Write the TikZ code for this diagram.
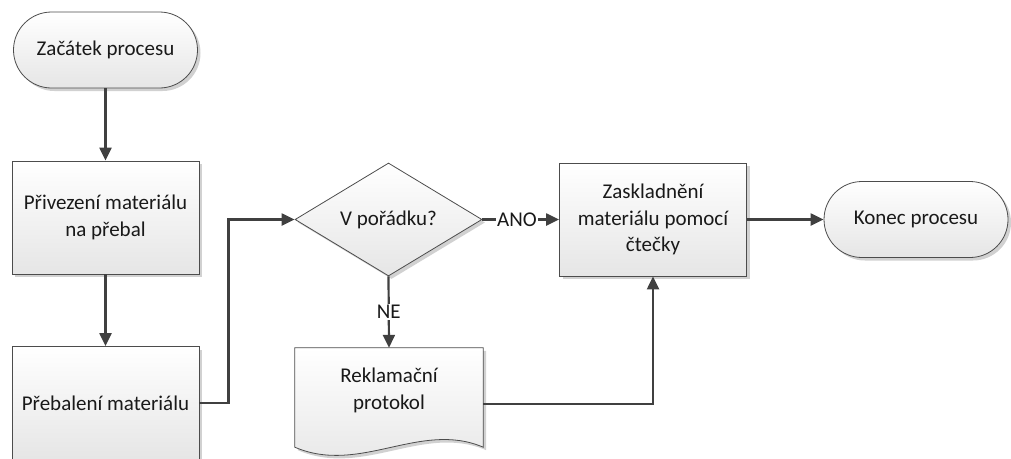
\documentclass[tikz,border=0pt]{standalone}
\usepackage{fontspec}
\setmainfont{Carlito}
\usetikzlibrary{shapes.misc,shapes.geometric,shadows,arrows.meta,calc}

\begin{document}
\begin{tikzpicture}[x=1pt,y=-1pt,
  every node/.style={font=\fontsize{21}{26.5}\selectfont, text=black!90},
  shapebase/.style={draw=black!70, line width=0.8pt, top color=white, bottom color=black!10,
    drop shadow={shadow xshift=3pt, shadow yshift=-3pt, fill=black!18, opacity=1},
    align=center, inner sep=2pt},
  procbox/.style={shapebase, rectangle, minimum width=187pt, minimum height=113pt},
  termbox/.style={shapebase, rounded rectangle, minimum width=188pt, minimum height=76pt},
  decbox/.style={shapebase, diamond, minimum width=187pt, minimum height=113pt, aspect=1.65},
  flow/.style={draw=black!75, line width=2.2pt, -{Triangle[length=13pt,width=12pt]}},
  edgelabel/.style={fill=white, inner sep=1pt}
]
\useasboundingbox (0,0) rectangle (1011,458);
\clip (0,0) rectangle (1011,458);

% process steps
\node[termbox] (start) at (105.5,50) {Začátek procesu};
\node[procbox] (box1) at (105.5,217.5) {Přivezení materiálu\\na přebal};
\node[procbox] (box3) at (105.5,403) {Přebalení materiálu};
\node[decbox] (dec) at (388.5,219.5) {V pořádku?};
\node[procbox] (store) at (653,219.5) {Zaskladnění\\materiálu pomocí\\čtečky};
\node[termbox] (end) at (916,219.5) {Konec procesu};

% document shape with wavy bottom
\node[minimum width=188pt, minimum height=99pt, inner sep=0pt] (doc) at (389,397.5) {};
\path[shapebase] (doc.north west) -- (doc.north east) -- (doc.south east)
  .. controls ($(doc.south east)+(-63,-27)$) and ($(doc.south east)+(-123,28)$) .. (doc.south west) -- cycle;
\node[align=center] (doctext) at (389,390.5) {Reklamační\\protokol};

% connectors
\draw[flow] (start.south) -- (box1.north);
\draw[flow] (box1.south) -- (box3.north);
\draw[flow] (box3.east) -- ++(29,0) |- (dec.west);
\draw[flow] (dec.east) -- node[edgelabel, pos=0.45] {ANO} (store.west);
\draw[flow] (dec.south) -- node[edgelabel] {NE} (doc.north);
\draw[flow] ([yshift=-6.5pt]doc.east) -| (store.south);
\draw[flow] (store.east) -- (end.west);
\end{tikzpicture}
\end{document}
